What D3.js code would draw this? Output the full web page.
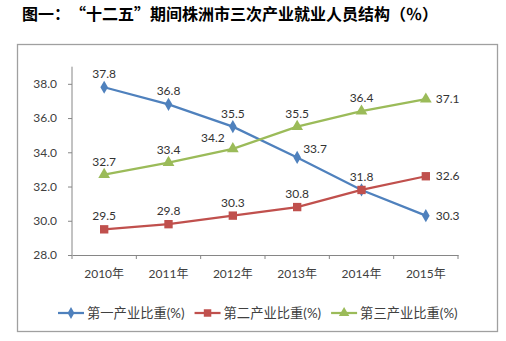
<!DOCTYPE html>
<html>
<head>
  <meta charset="utf-8">
  <style>
    body { margin: 0; background: #fff; }
    text { font-family: "Lato", "Noto Sans CJK SC", sans-serif; fill: #333; }
    .title { text-spacing-trim: space-all; font-feature-settings: "fwid" 1; }
  </style>
</head>
<body>
<div id="chart"></div>
<script src="https://d3js.org/d3.v7.min.js"></script>
<script>
  const years = ["2010年", "2011年", "2012年", "2013年", "2014年", "2015年"];
  const primary = [37.8, 36.8, 35.5, 33.7, 31.8, 30.3];
  const secondary = [29.5, 29.8, 30.3, 30.8, 31.8, 32.6];
  const tertiary = [32.7, 33.4, 34.2, 35.5, 36.4, 37.1];
  const yTicks = [28, 30, 32, 34, 36, 38];
  const seriesNames = ["第一产业比重(%)", "第二产业比重(%)", "第三产业比重(%)"];
  const title = "图一：“十二五”期间株洲市三次产业就业人员结构（%）";

  const width = 506, height = 341;
  const svg = d3.select('#chart').append('svg')
    .attr('width', width).attr('height', height);

  svg.append('text')
    .attr('class', 'title')
    .attr('x', 22).attr('y', 20)
    .style('font-family', '"Noto Sans CJK SC", sans-serif')
    .style('font-weight', 'bold')
    .style('font-size', '16px')
    .style('fill', '#000')
    .text(title);

  svg.append('rect')
    .attr('x', 17.5).attr('y', 44.5)
    .attr('width', 480).attr('height', 287)
    .attr('fill', 'none').attr('stroke', '#a0a0a0').attr('stroke-width', 1.3);

  const x = d3.scaleBand().domain(years).range([72, 458]);
  const y = d3.scaleLinear().domain([28, 39]).range([255, 66.7]);

  // axes
  const xAxis = svg.append('g').attr('transform', 'translate(0,255)')
    .call(d3.axisBottom(x).tickSize(0).tickPadding(14));
  xAxis.select('.domain').attr('stroke', '#868686');
  xAxis.selectAll('text').style('font-size', '12px').style('fill', '#404040')
    .style('font-family', '"Lato", "Noto Sans CJK SC", sans-serif');
  // category boundary ticks
  svg.append('g').selectAll('line')
    .data(years.concat(['end']))
    .join('line')
    .attr('x1', (d, i) => i < years.length ? x(d) : x.range()[1])
    .attr('x2', (d, i) => i < years.length ? x(d) : x.range()[1])
    .attr('y1', 255).attr('y2', 259)
    .attr('stroke', '#868686');

  const yAxis = svg.append('g').attr('transform', 'translate(72,0)')
    .call(d3.axisLeft(y).tickValues(yTicks).tickFormat(d3.format('.1f')).tickSize(4).tickPadding(11));
  yAxis.select('.domain').attr('stroke', '#868686').attr('d', `M0,${y(28)}V${y(39)}`);
  yAxis.selectAll('.tick line').attr('stroke', '#868686');
  yAxis.selectAll('text').style('font-size', '12px').style('fill', '#404040')
    .style('font-family', '"Lato", "Noto Sans CJK SC", sans-serif');

  const cx = d => x(d) + x.bandwidth() / 2;

  // label placement per point: top, upright, upleft, right, none
  const series = [
    { name: seriesNames[0], values: primary, color: '#4F81BD', shape: d3.symbolDiamond, size: 50,
      pos: ['top', 'top', 'top', 'upright', 'none', 'right'] },
    { name: seriesNames[1], values: secondary, color: '#C0504D', shape: d3.symbolSquare, size: 70,
      pos: ['top', 'top', 'top', 'top', 'top', 'right'] },
    { name: seriesNames[2], values: tertiary, color: '#9BBB59', shape: d3.symbolTriangle, size: 60,
      pos: ['top', 'top', 'upleft', 'top', 'top', 'right'] }
  ];

  const line = d3.line().x((d, i) => cx(years[i])).y(d => y(d));

  series.forEach(s => {
    const g = svg.append('g');
    g.append('path')
      .datum(s.values)
      .attr('d', line)
      .attr('fill', 'none')
      .attr('stroke', s.color)
      .attr('stroke-width', 2.25);
    g.selectAll('path.mk')
      .data(s.values)
      .join('path')
      .attr('class', 'mk')
      .attr('d', d3.symbol().type(s.shape).size(s.size))
      .attr('transform', (d, i) => `translate(${cx(years[i])},${y(d)})`)
      .attr('fill', s.color);
    g.selectAll('text')
      .data(s.values.map((v, i) => ({ v, i })).filter(d => s.pos[d.i] !== 'none'))
      .join('text')
      .attr('x', d => {
        const p = s.pos[d.i], px = cx(years[d.i]);
        if (p === 'right') return px + 10;
        if (p === 'upright') return px + 6;
        if (p === 'upleft') return px - 20;
        return px;
      })
      .attr('y', d => {
        const p = s.pos[d.i], py = y(d.v);
        if (p === 'right') return py + 4;
        if (p === 'upright') return py - 4;
        if (p === 'upleft') return py - 7;
        return py - 9;
      })
      .attr('text-anchor', d => s.pos[d.i] === 'top' || s.pos[d.i] === 'upleft' ? 'middle' : 'start')
      .style('font-size', '12px')
      .text(d => d.v.toFixed(1));
  });

  // legend
  const legend = svg.append('g');
  const ly = 313;
  let lx = 58;
  series.forEach(s => {
    const item = legend.append('g');
    item.append('line')
      .attr('x1', lx).attr('x2', lx + 26)
      .attr('y1', ly).attr('y2', ly)
      .attr('stroke', s.color).attr('stroke-width', 2.25);
    item.append('path')
      .attr('d', d3.symbol().type(s.shape).size(s.size * 0.8))
      .attr('transform', `translate(${lx + 13},${ly})`)
      .attr('fill', s.color);
    const t = item.append('text')
      .attr('x', lx + 29).attr('y', ly + 4.5)
      .style('font-size', '13.3px')
      .style('fill', '#404040')
      .text(s.name);
    lx += 29 + t.node().getComputedTextLength() + 10;
  });
</script>
</body>
</html>
